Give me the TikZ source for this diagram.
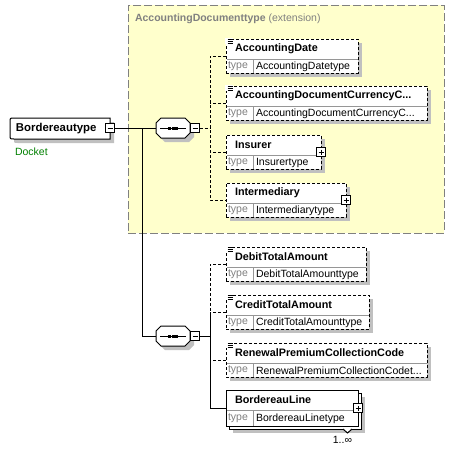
\documentclass[tikz,border=0pt]{standalone}
\usepackage{fontspec}
\setmainfont{Liberation Sans}
\usetikzlibrary{shadows}
\definecolor{shad}{RGB}{192,192,192}
\definecolor{extfill}{RGB}{255,255,204}
\definecolor{extline}{RGB}{128,128,128}
\definecolor{typegray}{RGB}{128,128,128}
\definecolor{divgray}{RGB}{150,150,150}
\definecolor{docgreen}{RGB}{0,128,0}
\tikzset{
  conn/.style={line width=1pt, black},
  dconn/.style={conn, dash pattern=on 3pt off 2pt},
  shadowed/.style={drop shadow={shadow xshift=4pt, shadow yshift=-4pt, fill=shad, opacity=1}},
  ebox/.style={draw=black, line width=1pt, fill=white, inner sep=0pt, outer sep=0pt, anchor=north west},
  reqbox/.style={ebox, shadowed},
  optbox/.style={ebox, shadowed, dash pattern=on 3pt off 2pt},
  stackbox/.style={ebox},
  txt/.style={inner sep=0pt, outer sep=0pt, anchor=west, font=\fontsize{10.5}{12}\selectfont},
  btxt/.style={txt, font=\fontsize{10.8}{12}\selectfont\bfseries},
  gtxt/.style={txt, text=typegray},
  pm/.style={draw=black, line width=1pt, fill=white, minimum size=9pt, inner sep=0pt, outer sep=0pt},
}
% name, L, T, R, B, divider y, title, type, style
\newcommand{\xsdelem}[9]{%
  \node[#9, minimum width={(#4-#2)*1pt}, minimum height={(#5-#3)*1pt}] (#1) at (#2,#3) {};
  \draw[line width=1pt, divgray] ({#2+0.5},#6) -- ({#4-0.5},#6);
  \draw[line width=1pt, divgray] (253,#6) -- (253,{#5-0.5});
  \node[btxt] (#1-n) at ({#2+9},{(#3+#6)/2}) {#7};
  \node[gtxt] (#1-k) at ({#2+2},{(#6+#5)/2+0.5}) {type};
  \node[txt] (#1-t) at ({#2+30},{(#6+#5)/2+0.5}) {#8};
}
\newcommand{\simpleicon}[2]{%
  \fill[white] ({#1-1},{#2-1}) rectangle ({#1+7},{#2+5});
  \draw[line width=0.8pt] ({#1+1.5},{#2+0.5}) -- ({#1+6.5},{#2+0.5});
  \draw[line width=0.8pt] ({#1+1.5},{#2+2.3}) -- ({#1+6.5},{#2+2.3});
  \draw[line width=0.8pt] ({#1+1.5},{#2+4.1}) -- ({#1+6.5},{#2+4.1});
}
\newcommand{\plusbox}[2]{%
  \node[pm] (#1) at (#2) {};
  \draw[line width=1pt] ([xshift=2pt]#1.west) -- ([xshift=-2pt]#1.east);
  \draw[line width=1pt] ([yshift=-2pt]#1.north) -- ([yshift=2pt]#1.south);
}
\newcommand{\minusbox}[2]{%
  \node[pm] (#1) at (#2) {};
  \draw[line width=1pt] ([xshift=2pt]#1.west) -- ([xshift=-2pt]#1.east);
}
% name, cx, cy
\newcommand{\seqnode}[3]{%
  \begin{scope}[shift={({#2+4},{#3+4})}]
    \fill[shad] (-12,-10) -- (12,-10) -- (17,-5) -- (17,5) -- (12,10) -- (-12,10) -- (-17,5) -- (-17,-5) -- cycle;
  \end{scope}
  \begin{scope}[shift={(#2,#3)}]
    \draw[line width=1pt, fill=white] (-12,-10) -- (12,-10) -- (17,-5) -- (17,5) -- (12,10) -- (-12,10) -- (-17,5) -- (-17,-5) -- cycle;
    \draw[line width=1pt] (-13,0) -- (13,0);
    \fill (-5,-1.5) rectangle (-2,1.5);
    \fill (-1.5,-1.5) rectangle (1.5,1.5);
    \fill (2,-1.5) rectangle (5,1.5);
  \end{scope}
  \node[inner sep=0pt, outer sep=0pt, minimum width=34pt, minimum height=20pt] (#1) at (#2,#3) {};
}
\begin{document}
\begin{tikzpicture}[x=1pt, y=-1pt]
\useasboundingbox (0,0) rectangle (455,451);
\fill[white] (0,0) rectangle (455,451);

% extension box
\node[draw=extline, fill=extfill, dash pattern=on 8pt off 3pt, line width=1pt,
      minimum width=316pt, minimum height=228pt, inner sep=0pt, outer sep=0pt,
      anchor=north west] (ext) at (128,5) {};
\node[txt, text=extline] (exttitle) at (135,19) {\textbf{AccountingDocumenttype} (extension)};

% root element
\begin{scope}[shift={(4,4)}]
  \fill[shad] (110,118) -- (14,118) .. controls (10,118) .. (10,122) -- (10,135) .. controls (10,139) .. (14,139) -- (110,139) -- cycle;
\end{scope}
\draw[line width=1pt, fill=white] (110,118) -- (14,118) .. controls (10,118) .. (10,122) -- (10,135) .. controls (10,139) .. (14,139) -- (110,139) -- cycle;
\node[inner sep=0pt, outer sep=0pt, minimum width=100pt, minimum height=21pt, anchor=north west] (root) at (10,118) {};
\node[txt, font=\fontsize{11.4}{13}\selectfont\bfseries] (rootlbl) at (16,128.5) {Bordereautype};
\minusbox{rootm}{110,128}
\node[txt, text=docgreen] (doc) at (15,152) {Docket};

% sequences
\seqnode{seq1}{173}{128}
\minusbox{s1m}{195,128}
\seqnode{seq2}{173}{336}
\minusbox{s2m}{195,336}

% elements in extension
\xsdelem{adate}{226}{39}{358}{73}{59}{AccountingDate}{AccountingDatetype}{optbox}
\simpleicon{226}{39}
\xsdelem{adcc}{226}{86}{427}{120}{106}{AccountingDocumentCurrencyC...}{AccountingDocumentCurrencyC...}{optbox}
\simpleicon{226}{86}
\xsdelem{insurer}{226}{135}{321}{169}{155}{Insurer}{Insurertype}{optbox}
\plusbox{p1}{321,152}
\xsdelem{inter}{226}{183}{346}{217}{203}{Intermediary}{Intermediarytype}{optbox}
\plusbox{p2}{346,200}

% elements below
\xsdelem{debit}{226}{247}{366}{281}{267}{DebitTotalAmount}{DebitTotalAmounttype}{optbox}
\simpleicon{226}{247}
\xsdelem{credit}{226}{295}{369}{329}{315}{CreditTotalAmount}{CreditTotalAmounttype}{optbox}
\simpleicon{226}{295}
\xsdelem{renew}{226}{343}{427}{377}{363}{RenewalPremiumCollectionCode}{RenewalPremiumCollectionCodet...}{optbox}
\simpleicon{226}{343}

% stacked BordereauLine
\fill[shad] (233,397) rectangle (365,433);
\draw[line width=1pt, fill=white] (229,393) rectangle (361,429);
\draw[line width=1pt, fill=white] (343,429) -- (347.5,433) -- (352,429);
\xsdelem{bline}{226}{390}{358}{426}{410}{BordereauLine}{BordereauLinetype}{stackbox}
\plusbox{p3}{358,408}
\node[txt, anchor=east] (mult) at (352,440) {1..∞};

% connectors
\draw[conn] (rootm.east) -- (seq1.west);
\coordinate (j1) at (142,128);
\draw[conn] (j1) |- (seq2.west);
\coordinate (v1) at (210,128);
\draw[dconn] (s1m.east) -- (v1);
\draw[dconn] (adate.west) -| (inter.west -| v1) -- (inter.west);
\draw[dconn] (adcc.west) -- (adcc.west -| v1);
\draw[dconn] (insurer.west) -- (insurer.west -| v1);
\coordinate (v2) at (210,336);
\draw[conn] (s2m.east) -- (v2);
\draw[dconn] (debit.west) -| (credit.west -| v2);
\draw[dconn] (credit.west) -- (credit.west -| v2);
\draw[conn] (credit.west -| v2) |- (bline.west);
\draw[dconn] (renew.west) -- (renew.west -| v2);
\end{tikzpicture}
\end{document}
